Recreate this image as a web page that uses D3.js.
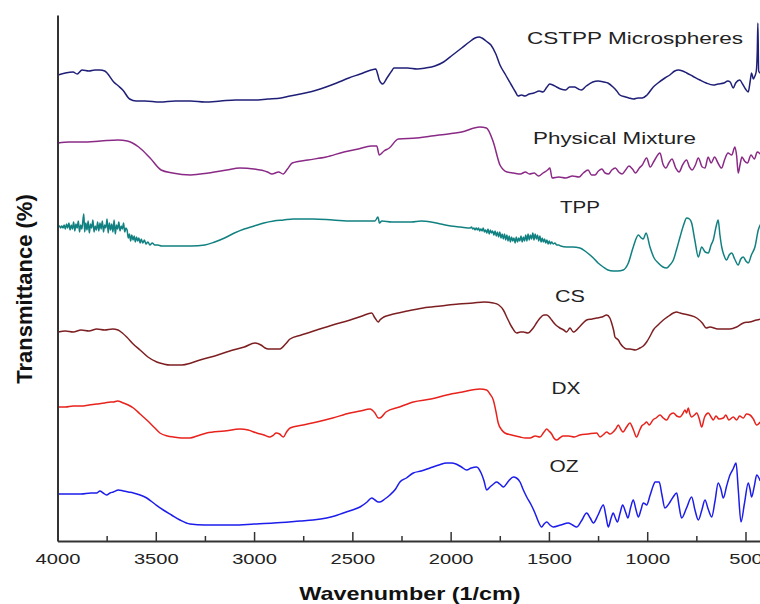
<!DOCTYPE html>
<html>
<head>
<meta charset="utf-8">
<script src="https://cdn.jsdelivr.net/npm/d3@7"></script>
<style>
  html, body { margin: 0; padding: 0; background: #fff; }
  svg { display: block; }
  text { font-family: "Liberation Sans", Arial, sans-serif; }
</style>
</head>
<body>
<svg id="chart" width="760" height="604"></svg>
<script>
// FTIR spectra, stacked with vertical offsets: [wavenumber (1/cm), transmittance (offset a.u.)]
const cstpp = [[3997,466],[3960,468],[3921,469],[3900,467],[3875,471],[3840,470],[3810,471],[3784,471],[3760,470],[3748,468],[3714,459],[3690,455],[3668,451],[3633,442],[3600,440],[3555,440],[3480,439],[3400,440],[3323,440],[3250,439],[3170,440],[3094,441],[3000,441],[2930,442],[2863,443],[2817,445],[2740,448],[2680,451],[2634,454],[2580,458],[2518,463],[2460,467],[2405,471],[2381,472],[2370,466],[2363,461],[2346,457],[2324,463],[2300,470],[2288,473],[2250,473],[2220,473],[2170,472],[2128,473],[2080,475],[2036,479],[1990,486],[1944,493],[1905,499],[1876,503],[1855,504],[1841,503],[1820,500],[1795,496],[1770,487],[1749,476],[1720,466],[1691,456],[1670,449],[1657,445],[1640,446],[1622,445],[1600,447],[1576,448],[1550,450],[1530,449],[1510,454],[1496,457],[1480,456],[1461,454],[1440,452],[1415,451],[1395,454],[1370,454],[1350,452],[1335,451],[1310,455],[1277,459],[1250,460],[1220,459],[1200,458],[1174,454],[1155,450],[1139,446],[1110,444],[1093,443],[1070,442],[1047,443],[1025,443],[1001,446],[969,454],[945,458],[910,463],[885,466],[860,470],[842,471],[820,470],[799,468],[770,465],[732,461],[700,458],[664,456],[640,457],[610,458],[590,460],[578,459],[562,453],[550,458],[529,461],[515,457],[500,452],[486,449],[476,460],[469,468],[460,462],[452,465],[445,470],[440,490],[437,518],[433,470],[425,468],[410,468]];

const physicalMixture = [[3997,398],[3940,399],[3875,399],[3780,400],[3692,401],[3645,400],[3587,394],[3529,383],[3473,371],[3415,368],[3323,366],[3231,368],[3139,371],[3072,373],[3001,372],[2932,369],[2909,367],[2875,369],[2852,367],[2830,372],[2806,378],[2726,381],[2634,384],[2543,389],[2470,392],[2404,395],[2376,395],[2363,386],[2339,390],[2312,393],[2266,402],[2174,403],[2059,406],[1944,409],[1852,414],[1818,413],[1783,399],[1749,376],[1713,369],[1680,368],[1645,367],[1620,369],[1599,367],[1575,368],[1553,365],[1530,368],[1507,371],[1495,373],[1484,363],[1450,364],[1415,363],[1380,365],[1347,364],[1325,368],[1301,371],[1283,366],[1266,366],[1248,370],[1231,372],[1214,368],[1197,367],[1180,371],[1162,373],[1145,369],[1128,367],[1110,371],[1093,375],[1075,372],[1059,368],[1040,373],[1025,376],[1003,383],[985,374],[965,380],[935,388],[920,377],[905,373],[890,378],[874,382],[855,373],[838,369],[820,376],[800,381],[785,374],[772,371],[755,376],[740,383],[720,374],[706,373],[690,384],[675,378],[657,384],[640,378],[622,373],[605,382],[589,388],[570,386],[554,394],[545,385],[537,368],[528,376],[518,384],[505,380],[490,378],[472,386],[455,382],[440,389],[420,386]];

const tpp = [[3997,314],[3990,315],[3984,313],[3978,315],[3972,313],[3966,316],[3960,312],[3954,317],[3948,313],[3942,318],[3936,311],[3930,316],[3924,312],[3918,319],[3912,310],[3906,317],[3900,313],[3894,320],[3888,309],[3882,316],[3876,312],[3870,322],[3866,327],[3862,309],[3856,318],[3850,311],[3844,320],[3838,308],[3832,317],[3826,313],[3820,321],[3814,309],[3808,315],[3802,311],[3796,319],[3790,310],[3784,318],[3778,312],[3772,320],[3766,309],[3760,316],[3754,313],[3748,322],[3742,308],[3736,318],[3730,311],[3724,317],[3718,309],[3712,321],[3706,307],[3700,316],[3694,312],[3688,319],[3682,310],[3676,315],[3670,312],[3664,318],[3658,309],[3652,313],[3646,311],[3640,303],[3634,307],[3628,300],[3622,306],[3616,301],[3610,305],[3604,299],[3598,304],[3592,300],[3586,303],[3580,298],[3574,302],[3566,298],[3558,301],[3550,297],[3540,299],[3530,296],[3518,298],[3505,296],[3490,296],[3470,295],[3420,295],[3380,295],[3320,295],[3250,296],[3200,299],[3150,303],[3100,308],[3050,312],[3000,315],[2950,318],[2900,320],[2850,321],[2800,322],[2750,322],[2700,322],[2600,321],[2500,320],[2420,320],[2385,320],[2370,324],[2362,318],[2350,320],[2300,319],[2200,319],[2150,320],[2100,319],[2050,317],[2000,315],[1950,314],[1900,313],[1894,314],[1888,312],[1882,313],[1876,311],[1870,313],[1864,311],[1858,313],[1852,310],[1846,312],[1840,310],[1834,313],[1828,309],[1822,311],[1816,308],[1810,312],[1804,307],[1798,311],[1792,308],[1786,310],[1780,306],[1774,310],[1768,305],[1762,309],[1756,304],[1750,309],[1744,303],[1738,307],[1732,302],[1726,307],[1720,301],[1714,306],[1708,300],[1702,305],[1696,299],[1690,304],[1684,300],[1678,303],[1672,298],[1666,304],[1660,299],[1654,303],[1648,300],[1642,305],[1636,299],[1630,304],[1624,300],[1618,306],[1612,300],[1606,307],[1600,301],[1594,306],[1588,302],[1582,308],[1576,301],[1570,307],[1564,302],[1558,306],[1552,300],[1546,305],[1540,299],[1534,303],[1528,299],[1522,302],[1516,298],[1510,301],[1504,297],[1498,300],[1492,297],[1486,299],[1478,297],[1470,298],[1460,296],[1450,296],[1440,295],[1410,294],[1380,294],[1342,293],[1310,289],[1274,283],[1250,278],[1224,274],[1200,271],[1173,270],[1150,270],[1122,271],[1096,278],[1071,294],[1045,306],[1030,303],[1020,302],[1006,308],[986,294],[965,283],[944,278],[920,274],[901,273],[885,276],[867,281],[850,292],[833,304],[815,316],[799,323],[785,322],[774,318],[757,300],[740,284],[723,294],[705,289],[689,288],[675,296],[664,301],[650,314],[639,321],[630,306],[621,294],[610,286],[596,281],[583,286],[570,288],[555,282],[537,276],[524,282],[511,284],[498,280],[486,278],[470,286],[452,294],[435,311],[420,318]];

const cs = [[3996,209],[3960,210],[3920,209],[3880,211],[3840,210],[3800,212],[3760,211],[3720,212],[3692,211],[3670,208],[3648,204],[3615,197],[3580,191],[3540,184],[3495,179],[3460,177],[3428,176],[3368,176],[3320,178],[3275,181],[3200,185],[3107,191],[3050,194],[2995,198],[2965,196],[2944,193],[2928,192],[2868,192],[2840,197],[2817,202],[2760,206],[2681,211],[2600,216],[2511,221],[2450,225],[2402,228],[2385,223],[2368,219],[2360,221],[2340,224],[2309,226],[2220,230],[2139,233],[2050,235],[1960,237],[1885,238],[1830,239],[1783,238],[1755,236],[1732,231],[1710,222],[1689,214],[1664,208],[1645,209],[1630,209],[1607,208],[1580,213],[1560,219],[1545,223],[1525,226],[1511,226],[1498,224],[1486,221],[1465,216],[1444,213],[1425,211],[1410,209],[1393,213],[1376,209],[1345,214],[1308,221],[1280,222],[1257,223],[1230,224],[1206,226],[1190,223],[1181,218],[1170,210],[1164,204],[1147,201],[1135,197],[1122,194],[1105,192],[1088,192],[1060,191],[1037,193],[1020,195],[1003,199],[985,205],[969,211],[945,216],[918,221],[890,225],[867,228],[850,229],[833,228],[790,226],[748,223],[720,218],[700,213],[681,214],[640,212],[580,212],[545,214],[511,218],[480,219],[443,221],[420,222]];

const dx = [[3996,134],[3960,134],[3920,135],[3880,135],[3840,136],[3800,137],[3760,138],[3730,139],[3716,139],[3695,140],[3665,138],[3640,136],[3614,133],[3580,127],[3546,121],[3510,114],[3479,108],[3440,105],[3411,104],[3370,103],[3326,103],[3290,105],[3241,108],[3150,110],[3072,112],[3030,111],[2987,108],[2950,106],[2919,104],[2900,106],[2888,108],[2870,107],[2851,104],[2835,109],[2817,113],[2750,116],[2681,119],[2600,123],[2512,128],[2460,130],[2410,132],[2385,128],[2368,123],[2360,123],[2329,129],[2260,134],[2190,139],[2100,142],[2020,146],[1940,149],[1851,152],[1817,151],[1800,147],[1783,141],[1770,130],[1758,118],[1740,111],[1724,108],[1690,106],[1647,104],[1620,103],[1596,103],[1570,105],[1546,104],[1525,109],[1511,112],[1500,110],[1486,107],[1475,103],[1461,101],[1445,103],[1428,105],[1400,105],[1370,104],[1342,106],[1300,107],[1257,108],[1240,104],[1225,106],[1206,109],[1190,107],[1179,108],[1160,112],[1147,116],[1135,112],[1123,109],[1105,114],[1088,118],[1070,111],[1054,104],[1040,110],[1028,115],[1015,117],[1003,119],[990,116],[971,121],[955,123],[935,126],[918,123],[901,121],[885,126],[867,128],[850,125],[833,124],[820,127],[808,131],[800,128],[791,133],[783,127],[774,124],[760,126],[748,128],[735,122],[723,114],[708,124],[689,128],[675,124],[664,121],[650,125],[635,122],[613,123],[600,126],[585,121],[562,124],[545,121],[530,125],[511,123],[495,127],[477,126],[460,122],[443,116],[425,119]];

const oz = [[3996,47],[3940,47],[3880,47],[3830,48],[3801,48],[3784,50],[3768,48],[3750,46],[3733,48],[3716,49],[3690,51],[3665,50],[3640,49],[3614,48],[3580,46],[3546,43],[3505,37],[3462,31],[3420,26],[3377,21],[3326,17],[3250,16],[3180,16],[3106,16],[3000,17],[2900,18],[2766,20],[2700,21],[2631,23],[2590,25],[2546,28],[2500,31],[2461,34],[2425,39],[2402,43],[2385,41],[2368,39],[2360,39],[2335,42],[2309,46],[2280,52],[2258,59],[2225,63],[2190,68],[2150,70],[2105,73],[2060,76],[2020,78],[1995,78],[1973,77],[1945,74],[1918,71],[1895,73],[1868,74],[1845,68],[1830,60],[1817,51],[1800,54],[1782,57],[1766,59],[1750,57],[1732,54],[1705,60],[1681,64],[1665,63],[1647,59],[1630,51],[1613,44],[1590,36],[1571,28],[1555,20],[1537,14],[1525,17],[1511,19],[1495,16],[1478,14],[1440,16],[1402,18],[1380,16],[1359,14],[1335,20],[1308,28],[1290,23],[1274,18],[1250,26],[1223,36],[1210,25],[1198,14],[1185,22],[1173,28],[1162,23],[1152,19],[1138,28],[1125,36],[1110,29],[1098,23],[1085,33],[1071,41],[1058,32],[1045,24],[1032,31],[1020,38],[1010,37],[1003,36],[985,46],[968,56],[960,59],[950,59],[939,59],[925,46],[910,33],[898,35],[884,39],[868,44],[850,48],[838,35],[825,23],[800,33],[774,44],[757,31],[740,21],[722,31],[706,41],[690,32],[672,24],[655,40],[639,58],[625,52],[613,43],[596,55],[579,66],[563,72],[548,78],[537,52],[523,19],[505,38],[486,58],[477,52],[469,44],[455,55],[443,66],[425,60]];

const series = [
  { name: "CSTPP Microspheres", data: cstpp,           color: "#1f1f78" },
  { name: "Physical Mixture",   data: physicalMixture, color: "#8a2a86" },
  { name: "TPP",                data: tpp,             color: "#118080" },
  { name: "CS",                 data: cs,              color: "#7d1f22" },
  { name: "DX",                 data: dx,              color: "#e8221c" },
  { name: "OZ",                 data: oz,              color: "#1c1ceb" }
];

// Series name labels: [center x, baseline y, drawn width]
const labelPlacement = {
  "CSTPP Microspheres": [635, 44, 216],
  "Physical Mixture":   [614.5, 144, 163],
  "TPP":                [580, 213, 40],
  "CS":                 [570, 302, 30],
  "DX":                 [566, 393.5, 29],
  "OZ":                 [564, 472, 29]
};

const majorTicks = [4000, 3500, 3000, 2500, 2000, 1500, 1000, 500];
const minorTicks = [3750, 3250, 2750, 2250, 1750, 1250, 750];

const xTitle = "Wavenumber (1/cm)";
const yTitle = "Transmittance (%)";

// ---- layout ----
const svg = d3.select("#chart");
const plotLeft = 57.5, plotBottom = 541, plotTop = 15;
const stretch = 1.3; // horizontal stretch applied to glyphs

const x = d3.scaleLinear().domain([4000, 400]).range([plotLeft, plotLeft + 3600 * 0.19657]);
const y = d3.scaleLinear().domain([0, 526]).range([plotBottom, plotTop]);

// traces
const line = d3.line()
  .x(d => x(d[0]))
  .y(d => y(d[1]))
  .curve(d3.curveMonotoneX);

svg.append("g")
  .selectAll("path")
  .data(series)
  .join("path")
  .attr("d", d => line(d.data))
  .attr("fill", "none")
  .attr("stroke", d => d.color)
  .attr("stroke-width", 1.5)
  .attr("stroke-linejoin", "round");

// x axis: major ticks with labels, minor ticks without, both pointing inward
const xAxisMinor = d3.axisBottom(x).tickValues(minorTicks).tickSizeInner(-5).tickSizeOuter(0).tickFormat("");
svg.append("g")
  .attr("transform", `translate(0,${plotBottom})`)
  .call(xAxisMinor)
  .call(g => g.select(".domain").remove())
  .call(g => g.selectAll("line").attr("stroke", "#333").attr("stroke-width", 1.5));

const xAxis = d3.axisBottom(x).tickValues(majorTicks).tickSizeInner(-9).tickSizeOuter(0).tickPadding(12).tickFormat(d3.format("d"));
svg.append("g")
  .attr("transform", `translate(0,${plotBottom})`)
  .call(xAxis)
  .call(g => g.select(".domain").attr("stroke", "#333").attr("stroke-width", 2))
  .call(g => g.selectAll("line").attr("stroke", "#333").attr("stroke-width", 1.5))
  .call(g => g.selectAll("text")
    .attr("font-size", 15.5)
    .attr("fill", "#222")
    .attr("font-family", "'Liberation Sans', Arial, sans-serif")
    .attr("transform", `scale(${stretch},1)`));

// y axis: plain line, no ticks
svg.append("g")
  .attr("transform", `translate(${plotLeft},0)`)
  .call(d3.axisLeft(y).tickValues([]).tickSizeOuter(0))
  .call(g => g.select(".domain").attr("stroke", "#333").attr("stroke-width", 2));

// series labels
svg.append("g")
  .selectAll("text")
  .data(series)
  .join("text")
  .attr("x", d => labelPlacement[d.name][0])
  .attr("y", d => labelPlacement[d.name][1])
  .attr("text-anchor", "middle")
  .attr("font-size", 16.5)
  .attr("fill", "#222")
  .attr("textLength", d => labelPlacement[d.name][2])
  .attr("lengthAdjust", "spacingAndGlyphs")
  .text(d => d.name);

// axis titles
svg.append("text")
  .attr("transform", `translate(410,600) scale(${stretch},1)`)
  .attr("text-anchor", "middle")
  .attr("font-size", 18)
  .attr("font-weight", "bold")
  .attr("fill", "#111")
  .text(xTitle);

svg.append("text")
  .attr("transform", "translate(32,289) rotate(-90)")
  .attr("text-anchor", "middle")
  .attr("font-size", 22)
  .attr("font-weight", "bold")
  .attr("fill", "#111")
  .text(yTitle);
</script>
</body>
</html>
